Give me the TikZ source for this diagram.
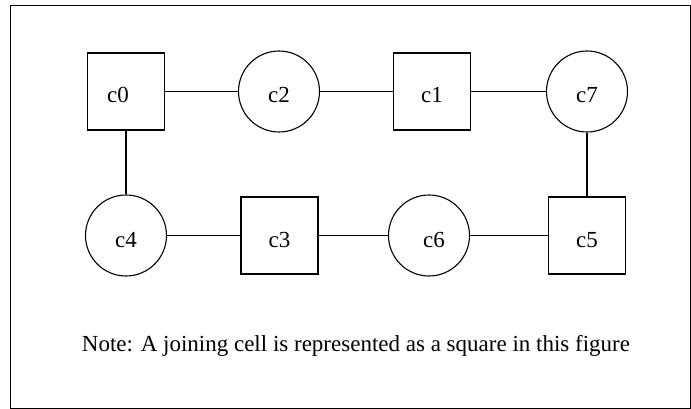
\documentclass[tikz,border=0pt]{standalone}
\usepackage{fontspec}
\setmainfont{Liberation Serif}
\begin{document}
\begin{tikzpicture}[x=1pt,y=-1pt,
  cell/.style={draw, line width=1.1pt, inner sep=0pt, font=\fontsize{23}{26}\selectfont,
               text height=23pt, text depth=0pt},
  joincell/.style={cell, rectangle, minimum size=77pt},
  roundcell/.style={cell, circle, minimum size=81pt},
  link/.style={line width=1.1pt}]
\useasboundingbox (0,0) rectangle (691,409);
% outer frame
\draw[line width=1.3pt] (10.5,5.5) rectangle (690.3,408.3);
% top row
\node[joincell]  (c0) at (126,91.5) {\hspace*{-16pt}c0};
\node[roundcell] (c2) at (279,91.5) {c2};
\node[joincell]  (c1) at (432,91.5) {c1};
\node[roundcell] (c7) at (587,91.5) {c7};
% bottom row
\node[roundcell] (c4) at (126,235.5) {c4};
\node[joincell]  (c3) at (279.5,235.5) {c3};
\node[roundcell] (c6) at (429,235.5) {\hspace*{10pt}c6};
\node[joincell]  (c5) at (587,235.5) {c5};
% ring connections
\draw[link] (c0) -- (c2);
\draw[link] (c2) -- (c1);
\draw[link] (c1) -- (c7);
\draw[link] (c7) -- (c5);
\draw[link] (c0) -- (c4);
\draw[link] (c4) -- (c3);
\draw[link] (c3) -- (c6);
\draw[link] (c6) -- (c5);
% caption
\node[anchor=base, inner sep=0pt, font=\fontsize{23}{26}\selectfont] (note) at (356,351)
  {Note: A joining cell is represented as a square in this figure};
\end{tikzpicture}
\end{document}
